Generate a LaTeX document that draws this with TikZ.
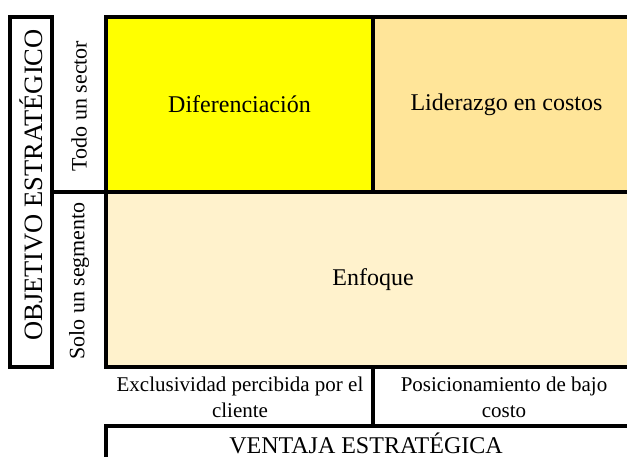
\documentclass[tikz,border=0pt]{standalone}
\usepackage{fontspec}
\setmainfont{Liberation Serif}
\usepackage{tikz}
\usetikzlibrary{positioning}
\definecolor{dYellow}{RGB}{255,255,0}
\definecolor{dGold}{RGB}{255,229,153}
\definecolor{dCream}{RGB}{255,242,204}
\tikzset{
  cell/.style={rectangle, draw=black, line width=3.6pt, inner sep=0pt,
               outer sep=0pt, align=center, font=\fontsize{24}{28}\selectfont},
  frame/.style={rectangle, draw=black, line width=3.6pt, inner sep=0pt,
                outer sep=0pt},
  rule/.style={draw=black, line width=3.6pt},
  axis/.style={rotate=90, inner sep=0pt, font=\fontsize{26.5}{30}\selectfont},
  side/.style={rotate=90, inner sep=0pt, font=\fontsize{22}{26}\selectfont},
  lbl/.style={inner sep=0pt, align=center, font=\fontsize{21}{26}\selectfont},
}

\begin{document}
\begin{tikzpicture}[x=1pt, y=-1pt]
  \useasboundingbox (0,0) rectangle (627,457);
  % strategy grid
  \node[cell, fill=dYellow, minimum width=267pt, minimum height=175pt]
    (dif) at (239.5,104.5) {Diferenciación};
  \node[cell, fill=dGold, minimum width=267pt, minimum height=175pt]
    (lid) at (506.5,104.5) {Liderazgo en costos};
  \node[cell, fill=dCream, minimum width=534pt, minimum height=175pt]
    (enf) at (373,279.5) {Enfoque};
  % vertical axis
  \node[frame, minimum width=42pt, minimum height=350pt] (obj) at (31,192) {};
  \node[axis] (objtxt) at (31,185) {OBJETIVO ESTRATÉGICO};
  \node[side] (tod) at (79,106) {Todo un sector};
  \node[side] (sol) at (79,281) {Solo un segmento};
  \draw[rule] (obj.east) -- (enf.north west);
  % horizontal axis
  \node[frame, minimum width=526pt, minimum height=36pt,
        font=\fontsize{24}{28}\selectfont] (ven) at (369,444) {};
  \node[inner sep=0pt, font=\fontsize{24}{28}\selectfont]
    (ventxt) at (366,443) {VENTAJA ESTRATÉGICA};
  \node[lbl] (exc) at (240,397) {Exclusividad percibida por el\\cliente};
  \node[lbl] (pos) at (504,397) {Posicionamiento de bajo\\costo};
  \draw[rule] (enf.south) -- (enf.south |- ven.north);
\end{tikzpicture}
\end{document}
